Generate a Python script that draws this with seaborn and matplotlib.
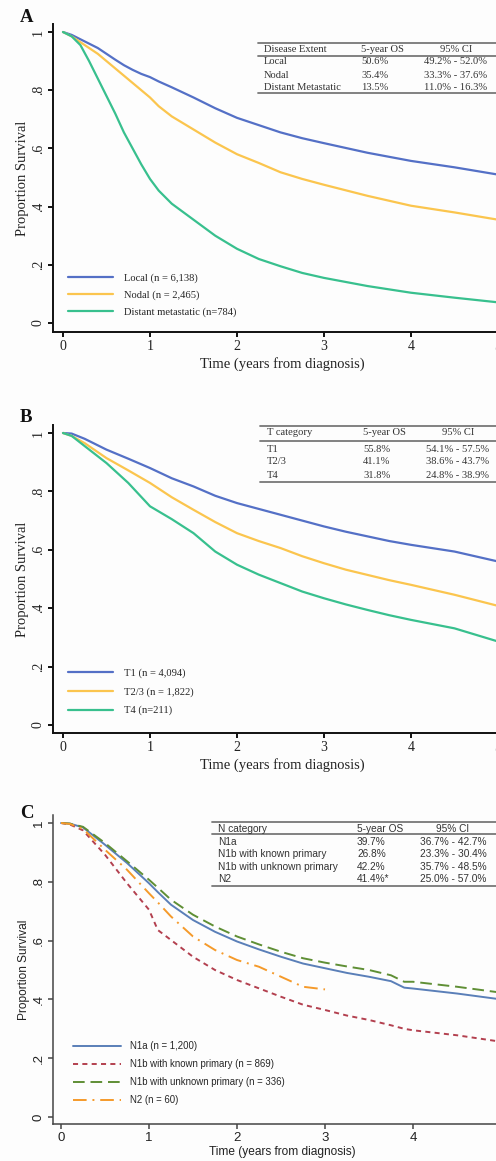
import numpy as np
import pandas as pd
import matplotlib
matplotlib.use("Agg")
import matplotlib.pyplot as plt
from matplotlib.lines import Line2D
import seaborn as sns

# ---------------- data ----------------
TIME_A = [0, 0.1, 0.2, 0.3, 0.4, 0.5, 0.6, 0.7, 0.8, 0.9, 1.0, 1.1, 1.25, 1.5, 1.75,
          2.0, 2.25, 2.5, 2.75, 3.0, 3.5, 4.0, 4.5, 5.0]
LOCAL = [1.0, 0.99, 0.975, 0.96, 0.945, 0.925, 0.905, 0.886, 0.87, 0.856, 0.845,
         0.83, 0.81, 0.775, 0.738, 0.705, 0.68, 0.655, 0.635, 0.618, 0.585, 0.557, 0.535, 0.51]
NODAL = [1.0, 0.985, 0.965, 0.945, 0.925, 0.9, 0.875, 0.85, 0.825, 0.8, 0.775,
         0.745, 0.71, 0.665, 0.62, 0.58, 0.55, 0.518, 0.495, 0.475, 0.437, 0.403, 0.38, 0.355]
DISTANT = [1.0, 0.985, 0.955, 0.9, 0.84, 0.78, 0.72, 0.655, 0.6, 0.545, 0.495,
           0.455, 0.41, 0.355, 0.3, 0.255, 0.22, 0.195, 0.172, 0.155, 0.127, 0.104, 0.087, 0.071]
LABELS_A = ["Local (n = 6,138)", "Nodal (n = 2,465)", "Distant metastatic (n=784)"]

TIME_B = [0, 0.1, 0.25, 0.5, 0.75, 1.0, 1.25, 1.5, 1.75, 2.0, 2.25, 2.5, 2.75,
          3.0, 3.25, 3.5, 3.75, 4.0, 4.5, 5.0]
T1 = [1.0, 0.998, 0.98, 0.943, 0.912, 0.88, 0.845, 0.817, 0.785, 0.76, 0.74, 0.72,
      0.70, 0.68, 0.662, 0.646, 0.63, 0.617, 0.594, 0.56]
T23 = [1.0, 0.99, 0.965, 0.914, 0.872, 0.829, 0.78, 0.737, 0.695, 0.657, 0.63, 0.606,
       0.578, 0.554, 0.532, 0.514, 0.496, 0.48, 0.446, 0.408]
T4 = [1.0, 0.99, 0.955, 0.897, 0.829, 0.749, 0.705, 0.657, 0.594, 0.549, 0.515, 0.486,
      0.457, 0.434, 0.413, 0.394, 0.376, 0.36, 0.331, 0.286]
LABELS_B = ["T1 (n = 4,094)", "T2/3 (n = 1,822)", "T4 (n=211)"]

TIME_C = [0, 0.1, 0.25, 0.5, 0.75, 1.0, 1.1, 1.25, 1.5, 1.75, 2.0, 2.25, 2.5, 2.75,
          3.0, 3.25, 3.5, 3.75, 3.9, 4.0, 4.5, 5.0]
N1A = [1.0, 0.998, 0.985, 0.926, 0.864, 0.795, 0.765, 0.722, 0.67, 0.63, 0.597, 0.57,
       0.545, 0.522, 0.506, 0.49, 0.477, 0.462, 0.44, 0.437, 0.42, 0.40]
N1B_KNOWN = [1.0, 0.995, 0.975, 0.892, 0.795, 0.705, 0.636, 0.602, 0.545, 0.5, 0.466,
             0.4375, 0.409, 0.382, 0.364, 0.345, 0.33, 0.312, 0.30, 0.295, 0.278, 0.256]
N1B_UNKNOWN = [1.0, 0.998, 0.987, 0.932, 0.87, 0.807, 0.78, 0.739, 0.688, 0.648, 0.614,
               0.587, 0.562, 0.54, 0.525, 0.512, 0.5, 0.482, 0.46, 0.46, 0.443, 0.423]
N2 = [1.0, 0.997, 0.98, 0.909, 0.841, 0.761, 0.73, 0.682, 0.614, 0.568, 0.534, 0.511,
      0.477, 0.443, 0.434, None, None, None, None, None, None, None]
LABELS_C = ["N1a (n = 1,200)", "N1b with known primary (n = 869)",
            "N1b with unknown primary (n = 336)", "N2 (n = 60)"]

Y_TICKS = [0, 0.2, 0.4, 0.6, 0.8, 1.0]
Y_TICKLABELS = ["0", ".2", ".4", ".6", ".8", "1"]
X_TICKS = [0, 1, 2, 3, 4, 5]

TABLE_A = [["Disease Extent", "5-year OS", "95% CI"],
           ["Local", "50.6%", "49.2% - 52.0%"],
           ["Nodal", "35.4%", "33.3% - 37.6%"],
           ["Distant Metastatic", "13.5%", "11.0% - 16.3%"]]
TABLE_B = [["T category", "5-year OS", "95% CI"],
           ["T1", "55.8%", "54.1% - 57.5%"],
           ["T2/3", "41.1%", "38.6% - 43.7%"],
           ["T4", "31.8%", "24.8% - 38.9%"]]
TABLE_C = [["N category", "5-year OS", "95% CI"],
           ["N1a", "39.7%", "36.7% - 42.7%"],
           ["N1b with known primary", "26.8%", "23.3% - 30.4%"],
           ["N1b with unknown primary", "42.2%", "35.7% - 48.5%"],
           ["N2", "41.4%*", "25.0% - 57.0%"]]


def long_df(time, series, labels):
    rows = []
    for vals, lab in zip(series, labels):
        for t, v in zip(time, vals):
            if v is not None:
                rows.append({"time": t, "surv": v, "group": lab})
    return pd.DataFrame(rows)


# ---------------- figure ----------------
sns.set_theme(style="ticks")
W, H = 496, 1161
fig = plt.figure(figsize=(W / 100, H / 100), dpi=100, facecolor="#fdfdfd")

SERIF = ["Liberation Serif", "DejaVu Serif"]
SANS = ["Liberation Sans", "DejaVu Sans"]


def add_axes_px(left, top, right, bottom):
    return fig.add_axes([left / W, 1 - bottom / H, (right - left) / W, (bottom - top) / H])


def fx(x):
    return x / W


def fy(y):
    return 1 - y / H


def style_axes(ax, family, xlim, ylim, tick_fs, lab_fs, spine_c, spine_w, xlabel_pad):
    ax.set_xlim(*xlim)
    ax.set_ylim(*ylim)
    ax.set_facecolor("none")
    for s in ["top", "right"]:
        ax.spines[s].set_visible(False)
    for s in ["left", "bottom"]:
        ax.spines[s].set_color(spine_c)
        ax.spines[s].set_linewidth(spine_w)
    ax.set_xticks(X_TICKS)
    ax.set_xticklabels([str(v) for v in X_TICKS], family=family, fontsize=tick_fs, color="#222")
    ax.set_yticks(Y_TICKS)
    ax.set_yticklabels(Y_TICKLABELS, family=family, fontsize=tick_fs, rotation=90,
                       va="center", color="#222")
    ax.tick_params(axis="both", direction="out", length=3.5, width=spine_w, color=spine_c, pad=2.5)
    ax.set_xlabel("Time (years from diagnosis)", family=family, fontsize=lab_fs,
                  color="#222", labelpad=xlabel_pad)
    ax.set_ylabel("Proportion Survival", family=family, fontsize=lab_fs, color="#222", labelpad=2)


def draw_table(rows, x1, x2, xc3, x_left, x_right, y_top, y_sep, y_bot, row_ys, family, fs):
    for yy, lw in [(y_top, 1.3), (y_sep, 1.3), (y_bot, 1.3)]:
        fig.add_artist(Line2D([fx(x_left), fx(x_right)], [fy(yy), fy(yy)],
                              color="#777", lw=lw, transform=fig.transFigure))
    for r, yy in zip(rows, row_ys):
        fig.text(fx(x1), fy(yy), r[0], family=family, fontsize=fs, va="center", ha="left", color="#333")
        fig.text(fx(x2), fy(yy), r[1], family=family, fontsize=fs, va="center", ha="left", color="#333")
        fig.text(fx(xc3), fy(yy), r[2], family=family, fontsize=fs, va="center", ha="center", color="#333")


# ---------- Panel A ----------
axA = add_axes_px(53, 24, 512, 332)
dfA = long_df(TIME_A, [LOCAL, NODAL, DISTANT], LABELS_A)
palA = dict(zip(LABELS_A, ["#5470c6", "#fbc54e", "#38c08e"]))
sns.lineplot(data=dfA, x="time", y="surv", hue="group", palette=palA, hue_order=LABELS_A,
             linewidth=1.6, ax=axA, legend=True)
style_axes(axA, SERIF, (-10 / 87, (512 - 63) / 87), (-9 / 291, 299 / 291), 10, 10.5, "#111", 1.4, 3)
h, l = axA.get_legend_handles_labels()
axA.legend(h, l, loc="upper left", bbox_to_anchor=(fx(68), fy(273)), bbox_transform=fig.transFigure,
           frameon=False, prop={"family": SERIF, "size": 7.6}, handlelength=4.3,
           handletextpad=1.0, labelspacing=0.72, borderpad=0, borderaxespad=0)
fig.text(fx(20), fy(18), "A", family=SERIF, fontsize=13.5, fontweight="bold", va="center", color="#111")
draw_table(TABLE_A, 264, 361, 456, 258, 500, 43, 56, 93, [50, 62, 75, 87], SERIF, 7.6)

# ---------- Panel B ----------
axB = add_axes_px(53, 425, 512, 733)
dfB = long_df(TIME_B, [T1, T23, T4], LABELS_B)
palB = dict(zip(LABELS_B, ["#5470c6", "#fbc54e", "#38c08e"]))
sns.lineplot(data=dfB, x="time", y="surv", hue="group", palette=palB, hue_order=LABELS_B,
             linewidth=1.6, ax=axB, legend=True)
style_axes(axB, SERIF, (-10 / 87, (512 - 63) / 87), (-8 / 292, 300 / 292), 10, 10.5, "#111", 1.4, 3)
h, l = axB.get_legend_handles_labels()
axB.legend(h, l, loc="upper left", bbox_to_anchor=(fx(68), fy(668)), bbox_transform=fig.transFigure,
           frameon=False, prop={"family": SERIF, "size": 7.6}, handlelength=4.3,
           handletextpad=1.0, labelspacing=0.88, borderpad=0, borderaxespad=0)
fig.text(fx(20), fy(418), "B", family=SERIF, fontsize=13.5, fontweight="bold", va="center", color="#111")
draw_table(TABLE_B, 267, 363, 458, 260, 500, 426, 441, 482, [433, 449, 462, 476], SERIF, 7.6)

# ---------- Panel C ----------
axC = add_axes_px(53, 815, 512, 1124)
dfC = long_df(TIME_C, [N1A, N1B_KNOWN, N1B_UNKNOWN, N2], LABELS_C)
palC = dict(zip(LABELS_C, ["#5a7fb8", "#b3404f", "#5f8f35", "#f59a2a"]))
dashC = dict(zip(LABELS_C, ["", (2.6, 2.2), (6.0, 3.0), (7.0, 3.0, 1.0, 3.0)]))
sns.lineplot(data=dfC, x="time", y="surv", hue="group", style="group", palette=palC,
             hue_order=LABELS_C, style_order=LABELS_C, dashes=dashC,
             linewidth=1.4, ax=axC, legend=True)
style_axes(axC, SANS, (-8 / 88, (512 - 61) / 88), (-7 / 294, 302 / 294), 9.5, 8.6, "#444", 1.1, 1)
h, l = axC.get_legend_handles_labels()
axC.legend(h, l, loc="upper left", bbox_to_anchor=(fx(73), fy(1041)), bbox_transform=fig.transFigure,
           frameon=False, prop={"family": SANS, "size": 6.9}, handlelength=5.0,
           handletextpad=1.0, labelspacing=0.85, borderpad=0, borderaxespad=0)
fig.text(fx(20), fy(813), "C", family=SERIF, fontsize=13.5, fontweight="bold", va="center", color="#111")
draw_table(TABLE_C, 218, 357, 453, 212, 500, 822, 834, 886, [829, 842, 854, 867, 879], SANS, 7.3)

fig.savefig("out.png", dpi=100, facecolor=fig.get_facecolor())
